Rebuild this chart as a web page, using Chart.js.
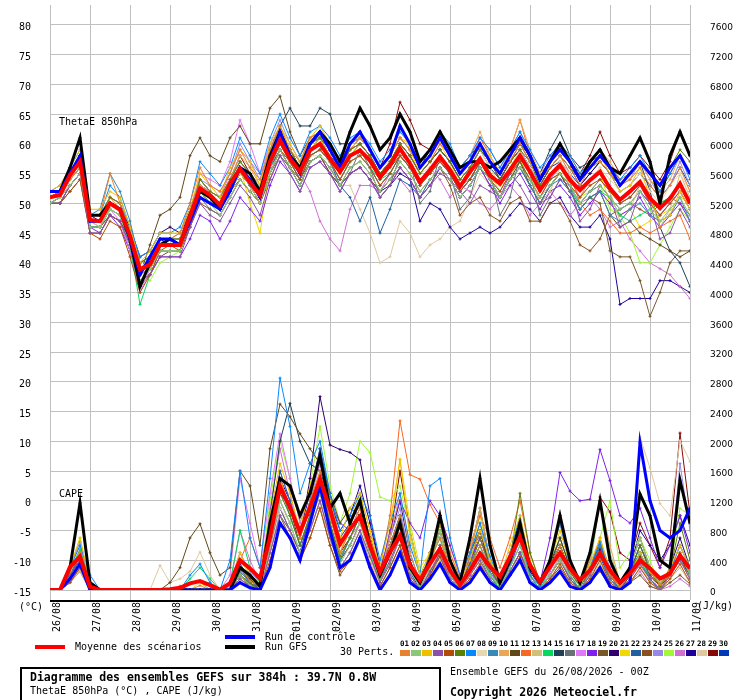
<!DOCTYPE html>
<html>
<head>
<meta charset="utf-8">
<script src="https://cdn.jsdelivr.net/npm/chart.js@4.4.1/dist/chart.umd.min.js"></script>
<style>
  body { margin: 0; background: #fff; width: 740px; height: 700px; position: relative; overflow: hidden;
         font-family: "DejaVu Sans Mono", monospace; font-size: 10px; color: #000; }
  #wrap { position: absolute; left: 0; top: 0; width: 740px; height: 640px; }
  .t { position: absolute; white-space: nowrap; line-height: 12px; }
  .bar { position: absolute; height: 4px; width: 30px; }
  .b { font-weight: bold; font-size: 11.5px; }
  #box { position: absolute; left: 20px; top: 667px; width: 417px; height: 40px; border: 2px solid #000; }
  .sw { position: absolute; top: 650px; width: 10px; height: 6px; }
  .sn { position: absolute; top: 639px; width: 11px; font-size: 7.5px; font-weight: bold; line-height: 9px; }
</style>
</head>
<body>
<div id="wrap"><canvas id="chart"></canvas></div>

<div class="t" style="left:59px;top:116px">ThetaE 850hPa</div>
<div class="t" style="left:59px;top:488px">CAPE</div>
<div class="t" style="left:19px;top:601px">(°C)</div>
<div class="t" style="left:697px;top:600px">(J/kg)</div>

<div class="bar" style="left:35px;top:645px;background:#ff0000"></div>
<div class="t" style="left:75px;top:641px">Moyenne des scénarios</div>
<div class="bar" style="left:225px;top:635px;background:#0000ff"></div>
<div class="t" style="left:265px;top:631px">Run de contrôle</div>
<div class="bar" style="left:225px;top:645px;background:#000000"></div>
<div class="t" style="left:265px;top:641px">Run GFS</div>
<div class="t" style="left:340px;top:646px">30 Perts.</div>
<div id="swatches"></div>

<div id="box"></div>
<div class="t b" style="left:30px;top:671px">Diagramme des ensembles GEFS sur 384h : 39.7N 0.8W</div>
<div class="t" style="left:30px;top:685px">ThetaE 850hPa (°C) , CAPE (J/kg)</div>
<div class="t" style="left:450px;top:666px">Ensemble GEFS du 26/08/2026 - 00Z</div>
<div class="t b" style="left:450px;top:686px">Copyright 2026 Meteociel.fr</div>

<script>
// day labels, one every 24h (65 steps of 6h)
const dayLabels = ['26/08','27/08','28/08','29/08','30/08','31/08','01/09','02/09','03/09',
                   '04/09','05/09','06/09','07/09','08/09','09/09','10/09','11/09'];

const pertColors = ['#e8822e','#88c878','#f0c000','#8c50a8','#b04c08','#5a8008','#0888ff','#e8d8b0',
                    '#3888b8','#e8a858','#604818','#f86820','#d0c078','#08d860','#204058','#687078',
                    '#e078f8','#8020f0','#785828','#300070','#f0d800','#2060a0','#8c5020','#9888e8',
                    '#a0f838','#d070d0','#200098','#e0c8a0','#880808','#0038b8'];

// ThetaE 850hPa (°C)
const thetaMean = [51,51.4,54.7,57,47.2,47,50,48.9,44.5,38.9,39.7,43,43,43,47.8,52.5,51.4,49.7,53.3,55.8,53.5,51.4,57,
  60.6,57.5,55.3,58.9,60,57.5,55.3,58,58.9,57.2,54.4,56.4,59.2,56.7,53.6,55.6,57.8,55.6,52.8,55.3,
  57.5,54.7,53.3,55.6,58,55.3,52.2,54.7,56.4,53.9,52.2,53.9,55.3,52.5,50.6,52,53.6,50.8,49.2,50.8,53.3,50];
const thetaCtrl = [52,52,55,58,47,47,50,49,44,38,41,44,44,43,47,51,50,49,52,56,54,51,57,62,58,55,60,62,59,56,
  60,62,59,56,58,63,60,56,58,61,58,55,57,60,57,55,58,61,58,54,57,59,57,54,56,58,56,53,55,57,55,53,56,58,55];
const thetaGfs = [52,52,56,61,48,48,50,49,44,36,40,43,44,43,48,52,51,49,53,56,55,52,58,62,58,56,60,62,60,57,
  62,66,63,59,61,65,62,57,59,62,59,56,57,57,56,57,59,61,58,54,57,60,57,54,57,59,56,55,58,61,57,50,58,62,58];
const thetaPerts = [
  [51,52,54,58,48,48,55,50,44,38,41,44,44,45,50,56,53,52,55,59,56,54,59,63,59,57,61,62,60,57,60,61,59,56,58,61,59,56,58,61,58,55,57,60,57,55,57,60,57,54,56,58,56,53,56,57,55,53,54,56,53,51,53,56,52],
  [50,51,53,55,46,46,49,48,44,37,39,42,42,42,47,51,50,48,51,54,52,50,55,59,56,53,57,58,56,53,56,57,55,52,54,57,55,52,54,56,54,51,53,56,54,51,54,56,54,51,53,55,53,50,52,53,51,49,50,52,49,47,49,51,48],
  [52,53,56,59,49,49,52,51,46,40,42,45,45,45,49,55,53,51,56,59,57,53,60,63,60,57,61,63,60,57,60,62,59,56,58,61,60,56,58,61,59,55,57,60,58,55,58,61,58,54,57,59,57,54,56,58,55,52,53,56,51,47,48,52,49],
  [50,50,53,55,45,45,48,47,43,37,38,41,41,41,46,50,48,47,50,53,51,48,54,58,55,52,56,57,55,52,55,56,54,51,53,56,54,51,53,55,54,52,50,53,52,51,55,53,50,50,51,54,53,47,49,53,51,46,47,52,50,44,45,49,46],
  [50,50,52,54,45,44,47,46,41,35,38,42,43,42,46,51,50,49,52,54,52,50,55,59,57,54,58,59,57,54,57,58,56,53,55,58,56,53,55,57,55,52,54,57,54,52,55,57,54,51,54,55,53,51,53,54,52,50,51,53,50,48,50,52,49],
  [51,52,55,57,48,48,51,50,45,40,41,44,44,44,48,54,52,51,54,57,55,52,58,62,59,56,60,61,59,56,59,60,58,55,57,60,58,55,57,59,57,54,56,59,57,54,57,59,57,53,56,58,56,54,56,57,55,53,55,57,55,53,56,59,57],
  [52,53,56,59,48,48,53,51,46,41,42,45,45,46,50,57,55,53,56,61,58,55,61,65,61,58,62,63,61,58,61,62,60,57,59,62,60,57,59,62,60,56,58,61,59,56,59,62,59,56,58,60,58,55,57,59,56,54,56,58,55,52,55,58,54],
  [51,51,54,57,47,47,50,49,45,39,41,44,44,44,48,54,52,51,54,57,55,53,55,59,57,57,58,58,57,57,57,58,56,56,57,58,57,55,56,57,56,54,56,59,56,53,56,59,56,53,55,57,55,52,54,56,54,52,53,55,52,50,53,55,52],
  [51,52,55,58,48,49,55,52,47,40,41,44,44,44,47,52,51,50,53,56,53,51,56,60,57,54,58,59,57,54,57,58,56,53,55,58,56,53,55,57,55,52,54,56,54,51,54,56,53,50,53,54,52,49,51,52,48,47,49,50,48,47,48,51,47],
  [51,51,54,57,47,47,51,49,45,39,40,43,43,43,48,53,52,51,54,58,56,53,59,62,59,56,60,61,59,56,59,61,59,56,58,61,59,56,58,61,59,56,58,62,58,55,59,64,59,55,57,60,58,55,57,59,57,54,55,57,54,52,54,58,55],
  [50,50,52,54,45,45,48,47,44,38,43,48,49,51,58,61,58,57,61,63,60,60,66,68,62,58,61,62,59,56,58,59,57,54,56,58,56,54,55,57,55,52,54,57,54,51,54,57,53,50,53,55,52,49,51,52,48,46,47,45,44,43,42,41,42],
  [51,51,54,56,47,47,51,49,45,39,40,43,43,43,48,53,51,50,53,56,54,52,57,61,58,56,60,61,59,56,59,60,58,55,57,60,58,55,57,60,58,55,57,61,58,55,59,64,58,54,56,58,55,50,48,49,47,45,45,46,45,46,47,48,44],
  [51,51,54,56,47,46,49,48,44,38,39,42,42,42,47,52,50,49,52,55,53,50,56,60,57,54,58,59,57,54,57,58,56,53,55,58,56,53,55,57,55,52,54,57,54,53,54,58,55,50,52,56,53,51,54,56,52,47,49,53,51,46,49,55,51],
  [50,51,54,56,46,46,49,48,43,33,38,42,42,42,47,52,50,49,52,55,53,51,56,60,57,55,58,59,57,55,57,58,56,54,55,58,56,54,55,57,55,53,54,57,55,53,55,57,54,52,54,55,53,49,51,52,51,48,47,48,49,50,51,53,50],
  [51,51,54,57,47,47,50,49,45,39,40,43,44,44,48,53,52,51,54,57,55,53,59,63,66,63,63,66,65,60,60,61,59,56,58,61,59,56,59,62,59,56,58,60,57,55,58,60,58,55,59,62,58,56,57,58,56,54,55,57,52,46,42,40,36],
  [50,50,53,55,46,46,49,48,44,38,39,42,42,42,46,51,49,48,51,54,52,50,55,58,56,53,57,58,56,53,55,59,56,51,53,58,57,50,52,58,55,49,51,57,55,48,51,58,55,48,51,54,52,50,52,54,52,50,51,53,51,49,51,53,50],
  [51,52,55,57,47,46,49,47,42,35,39,42,42,42,48,55,54,53,57,64,60,55,60,62,58,55,58,59,57,54,57,58,56,53,55,58,56,53,55,57,55,52,54,57,54,52,55,57,54,51,54,56,54,51,54,55,53,50,51,53,50,48,50,52,49],
  [50,50,53,55,46,45,48,46,42,37,38,41,41,41,44,48,47,44,47,51,49,47,53,57,55,52,56,57,55,52,55,56,54,51,53,56,54,51,53,56,54,51,53,56,53,50,53,55,52,49,52,53,51,48,50,52,50,48,49,51,48,46,48,50,47],
  [50,50,53,55,46,46,48,47,43,37,39,42,42,42,47,52,50,49,52,55,53,50,56,59,56,54,57,58,56,53,56,57,55,52,54,57,55,52,54,56,54,51,53,56,53,51,54,56,53,50,53,55,52,49,51,50,42,41,41,37,31,35,40,42,42],
  [51,52,55,58,48,47,50,49,46,41,42,45,46,45,49,54,52,51,54,57,55,52,58,62,59,56,60,61,59,56,59,60,58,55,57,60,58,55,57,59,57,54,56,59,57,54,57,59,56,53,56,58,56,53,55,57,55,53,55,57,55,52,55,58,55],
  [51,52,55,57,47,47,50,49,45,40,41,44,44,44,48,53,51,50,53,56,50,45,56,63,59,55,59,61,58,55,58,60,58,54,57,63,59,55,57,60,57,53,56,59,56,53,56,59,55,52,55,57,54,51,54,55,50,48,49,46,47,48,49,51,50],
  [50,51,54,56,46,46,49,48,44,38,39,42,42,42,47,52,50,49,52,55,53,50,55,59,57,54,58,59,57,53,51,47,51,45,49,54,53,51,54,56,54,51,53,56,54,51,54,56,53,50,53,55,53,50,52,53,51,49,50,52,50,48,50,52,49],
  [50,51,53,55,46,46,48,47,42,36,38,41,42,42,46,50,49,48,51,54,52,50,54,58,56,53,57,58,55,53,55,56,54,52,54,56,54,51,53,56,53,48,50,51,48,47,50,51,47,47,50,50,47,43,42,44,48,49,50,49,48,50,51,50,48],
  [52,52,55,58,48,48,51,50,46,40,41,44,44,45,49,54,53,52,55,60,57,54,60,64,60,57,61,62,60,57,60,61,59,56,58,61,59,56,58,61,59,56,58,61,59,56,59,62,58,55,58,60,57,54,56,58,56,53,54,57,54,51,53,57,53],
  [50,51,54,56,46,46,49,48,44,38,37,40,41,42,47,52,50,49,52,55,53,50,56,60,57,54,58,59,57,54,57,58,56,53,55,58,56,53,55,58,56,53,55,57,55,52,55,57,55,52,54,56,54,51,52,53,49,48,45,40,40,43,46,49,47],
  [51,51,54,56,47,47,50,49,44,38,40,43,43,43,48,53,52,51,55,59,57,55,58,61,58,55,52,47,44,42,49,53,53,52,55,54,52,54,56,54,51,53,52,50,49,51,53,51,48,50,52,50,48,50,51,49,46,47,44,42,40,39,38,36,34],
  [51,52,55,57,47,47,50,49,45,40,41,44,43,43,48,52,50,49,52,55,53,50,56,59,56,53,57,58,55,53,55,56,54,52,53,55,54,47,50,49,46,44,45,46,45,46,48,50,49,47,50,51,48,46,46,48,44,33,34,34,34,37,37,36,35],
  [50,51,54,56,47,47,49,48,44,39,40,43,43,43,47,52,51,50,53,56,54,51,56,60,57,54,57,58,56,53,53,49,45,40,41,47,45,41,43,44,46,47,51,55,53,51,54,56,54,51,54,55,53,51,53,54,52,50,51,53,51,49,51,53,50],
  [51,52,55,58,48,48,51,50,46,40,41,44,44,44,49,54,52,51,54,58,55,52,58,62,59,56,60,61,59,56,59,61,59,56,60,67,64,60,59,61,58,55,57,60,57,54,57,60,57,54,57,59,57,55,58,62,58,55,56,58,56,54,57,62,58],
  [51,52,54,57,47,47,50,49,45,39,40,43,43,43,48,53,51,50,53,56,54,51,57,61,59,56,59,61,58,56,58,60,58,55,57,60,58,55,57,59,57,54,56,59,56,54,57,59,56,53,56,57,55,53,55,57,55,52,53,55,53,51,53,56,53]
];

// CAPE (J/kg)
const capeMean = [0,0,310,450,45,0,0,0,0,0,0,0,10,30,90,120,65,5,90,400,290,155,710,1390,1110,780,1110,1490,1090,620,
  820,990,590,245,510,730,335,135,355,555,265,65,265,490,310,180,445,710,335,110,310,500,290,135,265,490,265,100,220,400,290,155,220,465,290];
const capeCtrl = [0,0,150,350,0,0,0,0,0,0,0,0,0,0,0,0,0,0,0,100,30,0,300,900,700,400,900,1400,800,300,
  400,700,300,0,200,500,100,0,150,350,100,0,100,300,100,0,200,400,100,0,100,250,50,0,100,300,50,0,100,1980,1200,800,700,800,1100];
const capeGfs = [0,0,300,1170,100,0,0,0,0,0,0,0,0,0,0,0,0,0,0,300,200,50,900,1500,1400,1000,1300,1800,1100,1300,
  900,1200,600,200,500,900,300,100,400,1000,400,100,700,1500,600,100,400,900,300,100,400,1000,400,100,500,1200,400,100,300,1290,1000,400,300,1476,900];
const capePerts = [
  [0,0,250,500,50,0,0,0,0,0,0,0,0,0,0,60,0,0,0,300,120,50,900,1500,1100,700,1200,1600,1000,500,800,1100,700,200,600,1000,300,100,400,700,250,50,300,600,300,100,500,900,350,80,300,600,250,80,250,500,200,40,200,400,250,80,200,500,250],
  [0,0,150,350,0,0,0,0,0,0,0,0,0,0,80,120,0,0,0,200,60,0,600,1200,900,500,900,1300,800,350,600,900,500,150,500,900,250,50,300,800,200,0,250,450,200,50,300,600,150,0,200,400,200,50,300,1200,500,100,300,700,300,100,250,500,200],
  [0,0,300,700,100,0,0,0,0,0,0,0,0,0,0,0,0,0,80,500,200,100,1000,1700,1300,800,1400,1800,1200,700,1100,1300,800,300,900,1750,700,200,500,900,350,80,400,800,400,150,600,1000,400,100,400,800,350,100,350,700,250,50,200,500,250,80,300,600,300],
  [0,0,200,400,0,0,0,0,0,0,0,0,0,0,0,0,0,0,0,150,50,0,500,1000,800,500,800,1200,700,300,500,800,450,100,400,700,200,0,250,500,150,0,200,400,150,0,250,500,150,0,200,400,150,0,200,500,150,0,150,350,150,0,200,400,150],
  [0,0,100,300,0,0,0,0,0,0,0,0,0,0,0,0,0,0,0,100,50,0,400,900,700,400,700,1100,600,250,400,700,350,50,300,600,150,0,200,450,100,0,150,350,100,0,200,450,100,0,150,350,100,0,150,400,100,0,100,300,100,0,150,350,100],
  [0,0,200,500,50,0,0,0,0,0,0,0,0,0,0,0,0,0,0,200,100,0,700,1300,1000,600,1000,1500,900,450,700,1000,600,150,500,1000,300,50,350,900,400,80,300,700,300,50,400,1300,500,100,300,600,250,50,250,500,200,50,200,600,250,50,250,900,400],
  [0,0,300,600,200,0,0,0,0,0,0,0,0,0,200,350,100,0,400,1600,700,300,1500,2850,2200,1300,1700,2000,1300,800,1000,1300,1000,400,900,1300,600,200,1400,1500,700,200,500,900,450,100,500,1000,350,50,400,900,300,50,300,650,250,50,200,500,250,80,250,600,300],
  [0,0,150,300,0,0,0,0,0,0,0,0,0,0,0,0,0,0,0,100,50,0,500,1100,900,500,800,1200,800,300,500,900,400,100,400,800,200,0,300,500,150,0,200,400,150,0,250,450,150,0,200,350,100,0,200,400,100,0,150,350,100,0,200,400,150],
  [0,0,200,450,50,0,0,0,0,0,0,0,0,0,0,0,0,0,0,250,100,0,700,1400,1000,600,1000,1400,900,400,700,1000,500,100,500,900,250,50,300,600,200,0,300,600,250,50,350,700,200,50,300,600,200,0,250,600,200,0,250,500,150,0,200,500,200],
  [0,0,250,500,0,0,0,0,0,0,0,0,0,0,0,0,0,0,0,250,100,0,800,1500,1100,700,1100,1500,1000,500,800,1100,600,200,700,1300,500,100,400,800,300,50,500,1100,400,100,500,900,350,50,400,1000,400,100,400,1200,600,100,300,700,300,50,250,600,250],
  [0,0,200,400,50,0,0,0,0,0,0,0,100,300,700,890,500,200,300,1600,1400,600,1900,2500,2330,2100,1900,1700,1300,900,1100,1000,700,200,500,800,300,50,400,900,400,100,500,800,300,50,400,800,350,50,300,600,250,50,250,600,200,0,200,450,200,50,200,400,200],
  [0,0,200,400,0,0,0,0,0,0,0,0,0,0,0,0,0,0,0,400,700,300,900,1500,1100,700,1100,1500,1000,600,900,1200,700,300,1000,2275,1550,1490,1150,900,500,150,600,1000,700,300,700,1200,500,100,400,900,350,50,300,700,250,50,200,500,250,50,200,400,200],
  [0,0,100,250,0,0,0,0,0,0,0,0,0,0,0,0,0,0,0,150,50,0,500,1000,800,400,700,1100,700,300,500,800,400,100,400,700,200,0,200,400,100,0,200,400,100,0,200,400,100,0,150,350,100,0,150,350,100,0,100,300,100,0,150,300,100],
  [0,0,250,550,100,0,0,0,0,0,0,0,0,0,150,300,150,0,100,800,300,100,800,1400,1000,600,1000,1400,900,400,700,1000,500,100,500,900,300,50,400,700,250,50,300,600,200,0,300,600,200,0,300,500,200,0,200,500,150,0,200,400,150,0,200,500,200],
  [0,0,150,350,50,0,0,0,0,0,0,0,0,0,0,0,0,0,0,300,150,0,1000,2000,2510,2000,1700,1600,1200,700,900,1200,700,200,600,1000,400,50,500,1000,400,100,500,1100,400,50,400,900,300,50,350,700,300,50,300,600,250,50,250,600,300,50,200,450,200],
  [0,0,150,300,0,0,0,0,0,0,0,0,0,0,0,0,0,0,0,200,80,0,600,1100,800,500,800,1200,700,300,500,800,400,100,350,700,200,0,250,450,150,0,200,450,150,0,250,500,150,0,200,400,150,0,200,400,150,0,150,350,150,0,200,400,150],
  [0,0,300,600,100,0,0,0,0,0,0,0,0,0,0,0,0,0,200,1500,900,300,1300,2100,1500,900,1300,1700,1100,600,800,1100,600,150,500,900,300,50,400,700,250,50,300,700,250,0,300,600,200,0,250,500,200,0,200,500,200,0,200,450,200,0,250,600,300],
  [0,0,150,350,0,0,0,0,0,0,0,0,0,0,0,0,0,0,0,150,50,0,500,1100,800,500,1000,1500,1200,900,800,1100,600,200,800,1200,900,700,1200,1000,600,200,400,700,300,50,300,700,300,100,700,1580,1330,1200,1220,1890,1470,1000,900,1100,700,300,600,1000,500],
  [0,0,100,300,0,0,0,0,0,0,0,0,0,50,0,0,0,0,0,200,50,0,500,1000,700,400,700,1100,600,200,400,700,300,50,300,600,150,0,200,500,150,0,200,400,100,0,200,400,100,0,150,300,100,0,100,250,50,0,100,200,50,0,100,200,80],
  [0,0,200,450,0,0,0,0,0,0,0,0,0,0,0,0,0,0,0,250,100,0,700,1300,1100,700,1500,2600,1950,1890,1850,1750,1000,300,600,1000,400,50,400,800,300,50,400,700,300,50,350,800,300,50,300,600,250,50,250,550,250,50,300,700,300,50,300,700,300],
  [0,0,250,550,50,0,0,0,0,0,0,0,0,0,0,100,0,0,0,300,150,50,800,1500,1100,700,1100,1600,1100,500,900,1300,800,200,800,1760,900,300,500,1000,600,150,500,1000,400,50,400,800,300,50,350,700,250,50,250,500,200,0,200,400,200,50,200,500,200],
  [0,0,200,400,0,0,0,0,0,0,0,0,0,0,0,0,0,0,0,300,100,0,800,1600,1200,700,1200,1900,1300,600,900,1200,700,200,500,900,300,50,350,800,300,50,350,700,300,50,400,900,300,50,300,600,250,50,250,600,200,50,250,500,200,50,200,450,200],
  [0,0,100,250,0,0,0,0,0,0,0,0,0,0,0,0,0,0,0,150,50,0,500,1000,800,500,900,1300,800,400,600,900,500,100,400,800,200,0,300,600,200,0,250,500,200,0,250,500,200,0,200,400,150,0,200,400,100,0,150,350,100,0,200,400,150],
  [0,0,300,650,100,0,0,0,0,0,0,0,0,0,0,0,0,0,100,500,250,100,900,1600,1200,800,1200,1700,1100,600,900,1200,700,250,700,1100,400,100,500,900,350,50,450,900,350,50,400,800,300,50,350,700,300,50,300,650,300,50,250,600,250,50,300,1700,800],
  [0,0,300,700,100,0,0,0,0,0,0,0,0,0,0,0,0,0,0,400,200,50,1200,2000,1500,900,1400,2200,1400,900,1300,2000,1850,1250,1200,1400,800,200,500,900,400,50,400,900,300,50,400,800,300,50,400,700,300,50,300,700,1200,300,500,700,400,50,300,1100,1000],
  [0,0,200,400,50,0,0,0,0,0,0,0,0,0,0,0,0,0,50,800,400,100,1100,1900,1300,700,1100,1500,900,400,700,900,500,100,400,700,200,0,250,500,150,0,200,400,100,0,200,400,100,0,150,300,100,0,150,300,100,0,100,250,50,0,50,150,50],
  [0,0,250,500,50,0,0,0,0,0,0,0,0,0,0,0,0,0,0,350,150,0,900,1500,1200,800,1300,1900,1200,800,1000,1400,900,300,700,1200,500,100,500,900,400,50,400,800,350,50,350,700,250,50,300,600,250,50,300,600,300,50,300,800,600,400,600,1000,600],
  [0,0,150,350,0,0,0,0,0,0,0,330,100,150,250,510,200,0,100,500,200,50,600,1200,900,500,800,1200,800,300,500,800,400,100,500,900,300,50,300,600,200,0,300,600,200,0,250,500,200,0,200,450,150,0,200,500,200,0,300,2055,1640,1160,1000,2010,1730],
  [0,0,200,400,0,0,0,0,0,0,0,0,0,0,0,0,0,0,0,300,100,0,700,1400,1100,600,1000,1500,1000,500,700,1000,600,200,700,1600,800,200,400,800,300,50,400,800,300,50,350,700,300,50,300,700,300,50,400,1250,1050,500,400,900,600,300,700,2110,1020],
  [0,0,200,400,0,0,0,0,0,0,0,0,0,0,0,0,0,0,0,200,80,0,600,1200,900,500,1000,1500,900,400,600,900,500,100,400,800,250,0,300,600,200,0,250,500,200,0,250,500,200,0,200,450,150,0,200,450,150,0,200,400,150,0,200,450,200]
];

// swatches of the 30 perturbations
const swBox = document.getElementById('swatches');
pertColors.forEach((c, i) => {
  const x = 400 + i * 11;
  swBox.insertAdjacentHTML('beforeend',
    `<div class="sn" style="left:${x}px">${String(i + 1).padStart(2, '0')}</div>` +
    `<div class="sw" style="left:${x}px;background:${c}"></div>`);
});

function series(values, color, width, axis, order, radius) {
  return {
    data: values.map((v, i) => ({ x: i * 6, y: v })),
    borderColor: color,
    backgroundColor: color,
    borderWidth: width,
    pointStyle: 'cross',
    pointRadius: radius,
    pointBorderWidth: 1,
    pointBorderColor: color,
    yAxisID: axis,
    order: order,
    tension: 0,
    fill: false
  };
}

const datasets = [
  series(thetaMean, '#ff0000', 4, 'y', 0, 0),
  series(capeMean, '#ff0000', 4, 'yC', 0, 0),
  series(thetaCtrl, '#0000ff', 3, 'y', 1, 1.5),
  series(capeCtrl, '#0000ff', 3, 'yC', 1, 1.5),
  series(thetaGfs, '#000000', 3, 'y', 2, 1.5),
  series(capeGfs, '#000000', 3, 'yC', 2, 1.5)
];
thetaPerts.forEach((p, i) => datasets.push(series(p, pertColors[i], 1, 'y', 3 + i, 1.5)));
capePerts.forEach((p, i) => datasets.push(series(p, pertColors[i], 1, 'yC', 3 + i, 1.5)));

// black line under the time axis
const axisLine = {
  id: 'axisLine',
  afterDraw(chart) {
    const { ctx, chartArea } = chart;
    ctx.save();
    ctx.strokeStyle = '#000';
    ctx.lineWidth = 2;
    ctx.beginPath();
    ctx.moveTo(chartArea.left, chartArea.bottom + 11);
    ctx.lineTo(chartArea.right, chartArea.bottom + 11);
    ctx.stroke();
    ctx.restore();
  }
};

const monoFont = { family: 'DejaVu Sans Mono', size: 10 };

new Chart(document.getElementById('chart'), {
  type: 'line',
  data: { datasets },
  options: {
    responsive: true,
    maintainAspectRatio: false,
    animation: false,
    layout: { padding: 0 },
    plugins: { legend: { display: false }, tooltip: { enabled: false } },
    scales: {
      x: {
        type: 'linear', min: 0, max: 384,
        afterBuildTicks: s => { s.ticks = dayLabels.map((_, i) => ({ value: i * 24 })); },
        ticks: {
          callback: (v, i) => dayLabels[i],
          autoSkip: false, minRotation: 90, maxRotation: 90,
          labelOffset: 7, padding: 2, font: monoFont, color: '#000'
        },
        grid: { color: '#c0c0c0', tickLength: 10 },
        border: { display: false },
        afterFit: s => { s.height = 50; s.paddingLeft = 0; s.paddingRight = 0; }
      },
      y: {
        position: 'left', min: -15, max: 83.3333,
        afterBuildTicks: s => { s.ticks = []; for (let v = -15; v <= 80; v += 5) s.ticks.push({ value: v }); },
        ticks: { padding: 19, labelOffset: 3, font: monoFont, color: '#000', callback: v => String(v) },
        grid: { color: '#c0c0c0', drawTicks: false },
        border: { display: false },
        afterFit: s => { s.width = 50; s.paddingTop = 0; s.paddingBottom = 0; }
      },
      yC: {
        position: 'right', min: 0, max: 7866.67,
        afterBuildTicks: s => { s.ticks = []; for (let v = 0; v <= 7600; v += 400) s.ticks.push({ value: v }); },
        ticks: { padding: 20, labelOffset: 3, font: { family: 'DejaVu Sans', size: 9 }, color: '#000', callback: v => String(v) },
        grid: { display: false, drawTicks: false },
        border: { display: false },
        afterFit: s => { s.width = 50; s.paddingTop = 0; s.paddingBottom = 0; }
      }
    }
  },
  plugins: [axisLine]
});
</script>
</body>
</html>
